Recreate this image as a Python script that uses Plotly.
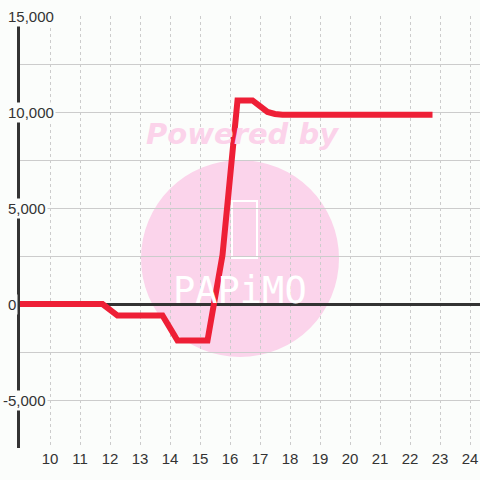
import plotly.graph_objects as go

# ---- data ----
hours = [9, 11.75, 12.25, 13.75, 14.25, 15.25, 15.75, 16.25, 16.75, 17.25, 17.5, 17.75, 22.75]
values = [0, 0, -600, -600, -1900, -1900, 2550, 10600, 10600, 10000, 9900, 9860, 9860]

x_ticks = list(range(10, 25))
y_ticks = [15000, 10000, 5000, 0, -5000]
y_tick_labels = ["15,000", "10,000", "5,000", "0", "-5,000"]

BG = "#fbfdfb"
W, H = 480, 480
L, R, T, B = 20, 0, 16, 32
pw, ph = W - L - R, H - T - B


def px_x(px):
    return (px - L) / pw


def px_y(py):
    return (H - B - py) / ph


fig = go.Figure()
fig.add_trace(go.Scatter(
    x=hours, y=values, mode="lines",
    line=dict(color="#ee1f36", width=6),
    hoverinfo="skip", showlegend=False,
))

shapes = [
    dict(type="circle", xref="paper", yref="paper", layer="below",
         x0=px_x(141), x1=px_x(339), y0=px_y(357), y1=px_y(160),
         fillcolor="#fbd4eb", line=dict(width=0)),
    dict(type="rect", xref="paper", yref="paper", layer="below",
         x0=px_x(232), x1=px_x(257), y0=px_y(258), y1=px_y(201),
         fillcolor="rgba(0,0,0,0)", line=dict(color="white", width=2)),
]

annotations = [
    dict(text="<b><i>Powered by</i></b>", xref="paper", yref="paper",
         x=px_x(242), y=px_y(134), xanchor="center", yanchor="middle",
         showarrow=False,
         font=dict(family="DejaVu Sans", size=29, color="#fbd3ea")),
    dict(text="PAPiMO", xref="paper", yref="paper",
         x=px_x(240), y=px_y(290), xanchor="center", yanchor="middle",
         showarrow=False,
         font=dict(family="DejaVu Sans Mono", size=37, color="white")),
]
for v, t in zip(y_ticks, y_tick_labels):
    annotations.append(dict(
        text=t, xref="paper", yref="y", x=px_x(6), y=v,
        xanchor="left", yanchor="middle", showarrow=False,
        xshift=-5 if t.startswith("-") else 0,
        bgcolor=BG, borderpad=1,
        font=dict(family="Liberation Sans, Arial", size=15, color="#333333"),
    ))

fig.update_layout(
    width=W, height=H,
    margin=dict(l=L, r=R, t=T, b=B),
    paper_bgcolor=BG, plot_bgcolor=BG,
    shapes=shapes, annotations=annotations,
    showlegend=False,
    xaxis=dict(
        range=[9, 9 + pw / 30], tickvals=x_ticks, ticktext=[str(t) for t in x_ticks],
        showgrid=True, gridcolor="#cccccc", gridwidth=1, griddash="dot",
        zeroline=False, showline=False, ticks="",
        tickfont=dict(family="Liberation Sans, Arial", size=15, color="#333333"),
        fixedrange=True,
    ),
    yaxis=dict(
        range=[-7500, 15000], dtick=2500, tick0=0,
        showgrid=True, gridcolor="#cccccc", gridwidth=1,
        zeroline=True, zerolinecolor="#333333", zerolinewidth=3,
        showline=True, linecolor="#333333", linewidth=3,
        showticklabels=False, ticks="", layer="below traces",
        fixedrange=True,
    ),
)

fig.write_html("out.html", config={"displayModeBar": False})
with open("out.html", encoding="utf-8") as f:
    html = f.read()
html = html.replace("<body>", "<body style=\"margin:0;background:%s\">" % BG, 1)
with open("out.html", "w", encoding="utf-8") as f:
    f.write(html)
